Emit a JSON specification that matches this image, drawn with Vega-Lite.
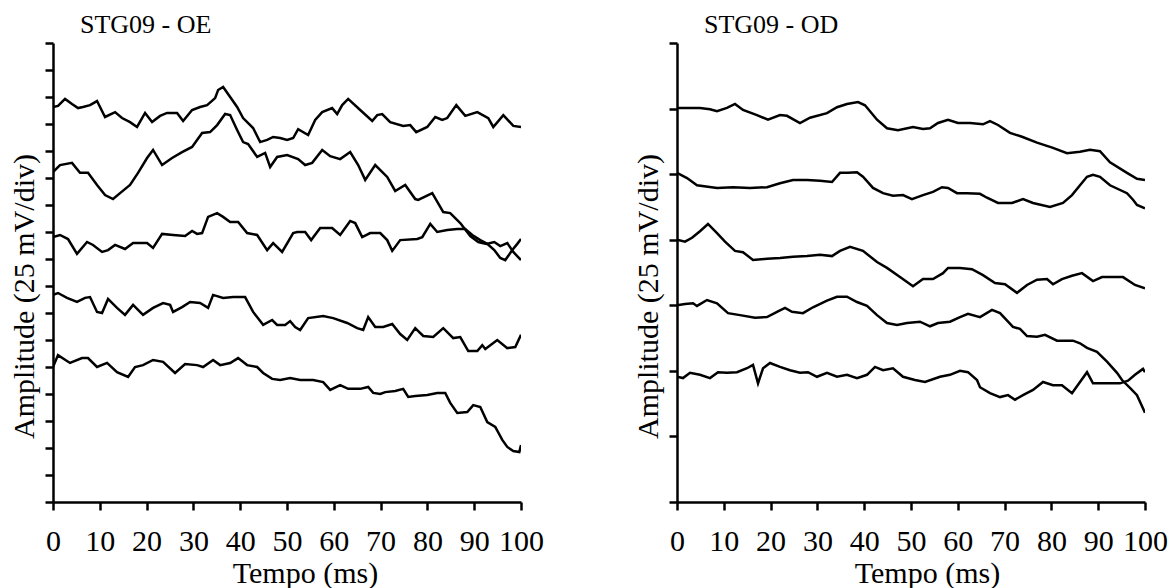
{
  "$schema": "https://vega.github.io/schema/vega-lite/v6.json",
  "padding": {"left": 9, "top": 11, "right": 0, "bottom": 0},
  "background": "white",
  "bounds": "flush",
  "spacing": 156,
  "config": {
    "view": {"stroke": null},
    "font": "Liberation Serif",
    "axis": {
      "domainColor": "black", "domainWidth": 2.5, "tickColor": "black", "tickWidth": 2.5, "tickSize": 8,
      "grid": false, "labelFont": "Liberation Serif", "labelFontSize": 30, "labelColor": "black",
      "titleFont": "Liberation Serif", "titleFontSize": 30, "titleFontWeight": "normal", "titleColor": "black"
    },
    "title": {"font": "Liberation Serif", "fontSize": 26, "fontWeight": "normal", "color": "black", "anchor": "start", "frame": "group", "dx": 27, "offset": 4, "baseline": "alphabetic"}
  },
  "datasets": {
    "oe": [
      {"trace": 1, "t": 0, "a": 14.63}, {"trace": 1, "t": 1.07, "a": 14.67}, {"trace": 1, "t": 2.57, "a": 14.93}, {"trace": 1, "t": 4.06, "a": 14.74}, {"trace": 1, "t": 5.35, "a": 14.59}, {"trace": 1, "t": 6.41, "a": 14.63}, {"trace": 1, "t": 7.91, "a": 14.7}, {"trace": 1, "t": 9.41, "a": 14.85}, {"trace": 1, "t": 10.05, "a": 14.63}, {"trace": 1, "t": 11.12, "a": 14.26}, {"trace": 1, "t": 13.26, "a": 14.44}, {"trace": 1, "t": 14.75, "a": 14.22}, {"trace": 1, "t": 16.46, "a": 14.07}, {"trace": 1, "t": 17.96, "a": 13.89}, {"trace": 1, "t": 19.67, "a": 14.41}, {"trace": 1, "t": 21.17, "a": 14.07}, {"trace": 1, "t": 22.88, "a": 14.3}, {"trace": 1, "t": 24.37, "a": 14.41}, {"trace": 1, "t": 26.51, "a": 14.41}, {"trace": 1, "t": 27.8, "a": 14.11}, {"trace": 1, "t": 29.72, "a": 14.52}, {"trace": 1, "t": 31.43, "a": 14.63}, {"trace": 1, "t": 32.93, "a": 14.7}, {"trace": 1, "t": 34.64, "a": 14.96}, {"trace": 1, "t": 35.28, "a": 15.26}, {"trace": 1, "t": 36.35, "a": 15.37}, {"trace": 1, "t": 37.85, "a": 15.0}, {"trace": 1, "t": 39.34, "a": 14.63}, {"trace": 1, "t": 40.62, "a": 14.22}, {"trace": 1, "t": 42.76, "a": 13.85}, {"trace": 1, "t": 44.26, "a": 13.33}, {"trace": 1, "t": 45.76, "a": 13.41}, {"trace": 1, "t": 47.04, "a": 13.52}, {"trace": 1, "t": 48.54, "a": 13.48}, {"trace": 1, "t": 50.03, "a": 13.41}, {"trace": 1, "t": 51.32, "a": 13.48}, {"trace": 1, "t": 52.38, "a": 13.81}, {"trace": 1, "t": 54.52, "a": 13.59}, {"trace": 1, "t": 56.02, "a": 14.15}, {"trace": 1, "t": 57.52, "a": 14.44}, {"trace": 1, "t": 59.65, "a": 14.59}, {"trace": 1, "t": 60.72, "a": 14.37}, {"trace": 1, "t": 61.79, "a": 14.7}, {"trace": 1, "t": 63.07, "a": 14.93}, {"trace": 1, "t": 65.64, "a": 14.52}, {"trace": 1, "t": 68.21, "a": 14.11}, {"trace": 1, "t": 69.28, "a": 14.33}, {"trace": 1, "t": 70.34, "a": 14.37}, {"trace": 1, "t": 72.05, "a": 14.07}, {"trace": 1, "t": 74.83, "a": 13.93}, {"trace": 1, "t": 76.33, "a": 13.96}, {"trace": 1, "t": 77.61, "a": 13.7}, {"trace": 1, "t": 79.97, "a": 13.89}, {"trace": 1, "t": 81.68, "a": 14.26}, {"trace": 1, "t": 83.17, "a": 14.15}, {"trace": 1, "t": 84.24, "a": 14.22}, {"trace": 1, "t": 86.17, "a": 14.7}, {"trace": 1, "t": 88.09, "a": 14.3}, {"trace": 1, "t": 90.66, "a": 14.44}, {"trace": 1, "t": 93.01, "a": 14.22}, {"trace": 1, "t": 94.08, "a": 13.89}, {"trace": 1, "t": 96.22, "a": 14.33}, {"trace": 1, "t": 98.36, "a": 13.93}, {"trace": 1, "t": 100, "a": 13.89},
      {"trace": 2, "t": 0, "a": 12.22}, {"trace": 2, "t": 1.5, "a": 12.48}, {"trace": 2, "t": 4.06, "a": 12.56}, {"trace": 2, "t": 5.77, "a": 12.19}, {"trace": 2, "t": 7.48, "a": 12.19}, {"trace": 2, "t": 9.41, "a": 11.74}, {"trace": 2, "t": 11.12, "a": 11.37}, {"trace": 2, "t": 12.83, "a": 11.22}, {"trace": 2, "t": 14.33, "a": 11.44}, {"trace": 2, "t": 16.46, "a": 11.74}, {"trace": 2, "t": 18.17, "a": 12.19}, {"trace": 2, "t": 20.1, "a": 12.74}, {"trace": 2, "t": 21.38, "a": 13.04}, {"trace": 2, "t": 23.31, "a": 12.48}, {"trace": 2, "t": 25.44, "a": 12.74}, {"trace": 2, "t": 27.58, "a": 12.96}, {"trace": 2, "t": 29.72, "a": 13.15}, {"trace": 2, "t": 31.86, "a": 13.67}, {"trace": 2, "t": 33.57, "a": 13.7}, {"trace": 2, "t": 35.07, "a": 13.96}, {"trace": 2, "t": 36.78, "a": 14.37}, {"trace": 2, "t": 37.85, "a": 14.33}, {"trace": 2, "t": 39.34, "a": 13.78}, {"trace": 2, "t": 40.62, "a": 13.33}, {"trace": 2, "t": 41.69, "a": 13.26}, {"trace": 2, "t": 43.62, "a": 12.78}, {"trace": 2, "t": 45.33, "a": 12.93}, {"trace": 2, "t": 46.4, "a": 12.41}, {"trace": 2, "t": 47.89, "a": 12.78}, {"trace": 2, "t": 50.03, "a": 12.85}, {"trace": 2, "t": 52.38, "a": 12.7}, {"trace": 2, "t": 53.88, "a": 12.48}, {"trace": 2, "t": 55.38, "a": 12.56}, {"trace": 2, "t": 57.52, "a": 13.04}, {"trace": 2, "t": 59.23, "a": 12.81}, {"trace": 2, "t": 61.36, "a": 12.7}, {"trace": 2, "t": 63.5, "a": 12.96}, {"trace": 2, "t": 65.21, "a": 12.48}, {"trace": 2, "t": 66.71, "a": 11.93}, {"trace": 2, "t": 68.85, "a": 12.48}, {"trace": 2, "t": 71.41, "a": 12.04}, {"trace": 2, "t": 73.12, "a": 11.52}, {"trace": 2, "t": 75.26, "a": 11.74}, {"trace": 2, "t": 77.4, "a": 11.22}, {"trace": 2, "t": 78.04, "a": 11.19}, {"trace": 2, "t": 81.04, "a": 11.44}, {"trace": 2, "t": 83.39, "a": 10.74}, {"trace": 2, "t": 84.88, "a": 10.7}, {"trace": 2, "t": 87.02, "a": 10.33}, {"trace": 2, "t": 89.16, "a": 9.85}, {"trace": 2, "t": 90.87, "a": 9.63}, {"trace": 2, "t": 92.58, "a": 9.56}, {"trace": 2, "t": 94.29, "a": 9.63}, {"trace": 2, "t": 95.57, "a": 9.48}, {"trace": 2, "t": 97.07, "a": 9.59}, {"trace": 2, "t": 98.35, "a": 9.26}, {"trace": 2, "t": 100, "a": 8.96},
      {"trace": 3, "t": 0, "a": 9.81}, {"trace": 3, "t": 1.5, "a": 9.89}, {"trace": 3, "t": 3.21, "a": 9.74}, {"trace": 3, "t": 5.13, "a": 9.19}, {"trace": 3, "t": 7.27, "a": 9.63}, {"trace": 3, "t": 8.55, "a": 9.52}, {"trace": 3, "t": 10.48, "a": 9.26}, {"trace": 3, "t": 11.76, "a": 9.33}, {"trace": 3, "t": 13.26, "a": 9.52}, {"trace": 3, "t": 15.39, "a": 9.37}, {"trace": 3, "t": 17.11, "a": 9.59}, {"trace": 3, "t": 20.1, "a": 9.59}, {"trace": 3, "t": 21.38, "a": 9.41}, {"trace": 3, "t": 23.31, "a": 9.93}, {"trace": 3, "t": 25.66, "a": 9.89}, {"trace": 3, "t": 28.22, "a": 9.85}, {"trace": 3, "t": 29.72, "a": 10.04}, {"trace": 3, "t": 30.79, "a": 9.93}, {"trace": 3, "t": 31.86, "a": 9.96}, {"trace": 3, "t": 33.14, "a": 10.56}, {"trace": 3, "t": 35.07, "a": 10.7}, {"trace": 3, "t": 36.35, "a": 10.56}, {"trace": 3, "t": 37.85, "a": 10.37}, {"trace": 3, "t": 39.56, "a": 10.37}, {"trace": 3, "t": 41.48, "a": 9.96}, {"trace": 3, "t": 43.62, "a": 9.89}, {"trace": 3, "t": 45.76, "a": 9.33}, {"trace": 3, "t": 47.04, "a": 9.59}, {"trace": 3, "t": 48.96, "a": 9.26}, {"trace": 3, "t": 51.32, "a": 9.96}, {"trace": 3, "t": 52.17, "a": 10.0}, {"trace": 3, "t": 53.88, "a": 10.0}, {"trace": 3, "t": 55.16, "a": 9.7}, {"trace": 3, "t": 57.09, "a": 10.15}, {"trace": 3, "t": 59.65, "a": 10.15}, {"trace": 3, "t": 61.36, "a": 9.89}, {"trace": 3, "t": 63.5, "a": 10.41}, {"trace": 3, "t": 64.57, "a": 10.33}, {"trace": 3, "t": 66.07, "a": 9.81}, {"trace": 3, "t": 67.78, "a": 9.96}, {"trace": 3, "t": 69.92, "a": 9.96}, {"trace": 3, "t": 71.41, "a": 9.7}, {"trace": 3, "t": 72.48, "a": 9.3}, {"trace": 3, "t": 74.19, "a": 9.7}, {"trace": 3, "t": 77.83, "a": 9.74}, {"trace": 3, "t": 78.9, "a": 9.81}, {"trace": 3, "t": 80.61, "a": 10.3}, {"trace": 3, "t": 82.1, "a": 10.0}, {"trace": 3, "t": 84.24, "a": 10.07}, {"trace": 3, "t": 86.38, "a": 10.11}, {"trace": 3, "t": 88.09, "a": 10.11}, {"trace": 3, "t": 89.59, "a": 9.89}, {"trace": 3, "t": 91.3, "a": 9.7}, {"trace": 3, "t": 92.79, "a": 9.56}, {"trace": 3, "t": 94.29, "a": 9.33}, {"trace": 3, "t": 95.57, "a": 9.04}, {"trace": 3, "t": 96.64, "a": 8.96}, {"trace": 3, "t": 98.14, "a": 9.33}, {"trace": 3, "t": 99.21, "a": 9.56}, {"trace": 3, "t": 100, "a": 9.74},
      {"trace": 4, "t": 0, "a": 7.67}, {"trace": 4, "t": 1.07, "a": 7.74}, {"trace": 4, "t": 2.99, "a": 7.56}, {"trace": 4, "t": 5.13, "a": 7.41}, {"trace": 4, "t": 6.84, "a": 7.56}, {"trace": 4, "t": 7.91, "a": 7.59}, {"trace": 4, "t": 9.41, "a": 7.04}, {"trace": 4, "t": 10.48, "a": 7.0}, {"trace": 4, "t": 11.76, "a": 7.52}, {"trace": 4, "t": 13.68, "a": 7.19}, {"trace": 4, "t": 15.39, "a": 6.93}, {"trace": 4, "t": 17.11, "a": 7.3}, {"trace": 4, "t": 19.24, "a": 6.93}, {"trace": 4, "t": 21.38, "a": 7.19}, {"trace": 4, "t": 23.52, "a": 7.37}, {"trace": 4, "t": 25.02, "a": 7.3}, {"trace": 4, "t": 25.66, "a": 7.04}, {"trace": 4, "t": 27.58, "a": 7.22}, {"trace": 4, "t": 29.29, "a": 7.41}, {"trace": 4, "t": 31.43, "a": 7.37}, {"trace": 4, "t": 33.14, "a": 7.19}, {"trace": 4, "t": 34.21, "a": 7.67}, {"trace": 4, "t": 36.35, "a": 7.56}, {"trace": 4, "t": 38.49, "a": 7.59}, {"trace": 4, "t": 41.05, "a": 7.59}, {"trace": 4, "t": 42.76, "a": 7.04}, {"trace": 4, "t": 44.9, "a": 6.56}, {"trace": 4, "t": 46.83, "a": 6.74}, {"trace": 4, "t": 47.89, "a": 6.56}, {"trace": 4, "t": 49.6, "a": 6.56}, {"trace": 4, "t": 50.67, "a": 6.7}, {"trace": 4, "t": 51.74, "a": 6.48}, {"trace": 4, "t": 52.81, "a": 6.37}, {"trace": 4, "t": 54.52, "a": 6.81}, {"trace": 4, "t": 57.73, "a": 6.89}, {"trace": 4, "t": 59.87, "a": 6.81}, {"trace": 4, "t": 62.86, "a": 6.63}, {"trace": 4, "t": 65.0, "a": 6.44}, {"trace": 4, "t": 66.28, "a": 6.37}, {"trace": 4, "t": 67.35, "a": 6.85}, {"trace": 4, "t": 68.85, "a": 6.48}, {"trace": 4, "t": 70.56, "a": 6.48}, {"trace": 4, "t": 72.48, "a": 6.59}, {"trace": 4, "t": 74.19, "a": 6.22}, {"trace": 4, "t": 75.69, "a": 6.0}, {"trace": 4, "t": 77.4, "a": 6.44}, {"trace": 4, "t": 79.11, "a": 6.15}, {"trace": 4, "t": 81.25, "a": 6.11}, {"trace": 4, "t": 83.39, "a": 6.44}, {"trace": 4, "t": 85.52, "a": 6.07}, {"trace": 4, "t": 87.02, "a": 6.11}, {"trace": 4, "t": 88.73, "a": 5.59}, {"trace": 4, "t": 90.66, "a": 5.59}, {"trace": 4, "t": 91.73, "a": 5.81}, {"trace": 4, "t": 92.37, "a": 5.67}, {"trace": 4, "t": 94.93, "a": 6.0}, {"trace": 4, "t": 97.07, "a": 5.7}, {"trace": 4, "t": 98.78, "a": 5.74}, {"trace": 4, "t": 100, "a": 6.19},
      {"trace": 5, "t": 0, "a": 5.0}, {"trace": 5, "t": 1.07, "a": 5.44}, {"trace": 5, "t": 3.63, "a": 5.15}, {"trace": 5, "t": 6.2, "a": 5.33}, {"trace": 5, "t": 7.48, "a": 5.33}, {"trace": 5, "t": 9.41, "a": 5.0}, {"trace": 5, "t": 11.55, "a": 5.15}, {"trace": 5, "t": 13.68, "a": 4.81}, {"trace": 5, "t": 16.04, "a": 4.63}, {"trace": 5, "t": 17.53, "a": 5.0}, {"trace": 5, "t": 19.24, "a": 5.07}, {"trace": 5, "t": 21.38, "a": 5.26}, {"trace": 5, "t": 23.52, "a": 5.19}, {"trace": 5, "t": 26.08, "a": 4.78}, {"trace": 5, "t": 28.22, "a": 5.11}, {"trace": 5, "t": 30.79, "a": 5.07}, {"trace": 5, "t": 32.07, "a": 5.0}, {"trace": 5, "t": 34.21, "a": 5.26}, {"trace": 5, "t": 35.71, "a": 5.07}, {"trace": 5, "t": 37.85, "a": 5.15}, {"trace": 5, "t": 39.56, "a": 5.33}, {"trace": 5, "t": 41.48, "a": 5.07}, {"trace": 5, "t": 43.62, "a": 5.0}, {"trace": 5, "t": 44.9, "a": 4.78}, {"trace": 5, "t": 46.83, "a": 4.56}, {"trace": 5, "t": 48.54, "a": 4.52}, {"trace": 5, "t": 50.67, "a": 4.59}, {"trace": 5, "t": 52.81, "a": 4.52}, {"trace": 5, "t": 55.59, "a": 4.52}, {"trace": 5, "t": 57.73, "a": 4.44}, {"trace": 5, "t": 59.23, "a": 4.15}, {"trace": 5, "t": 61.36, "a": 4.33}, {"trace": 5, "t": 63.07, "a": 4.19}, {"trace": 5, "t": 65.64, "a": 4.19}, {"trace": 5, "t": 67.35, "a": 4.26}, {"trace": 5, "t": 68.42, "a": 4.04}, {"trace": 5, "t": 69.92, "a": 4.0}, {"trace": 5, "t": 70.99, "a": 4.07}, {"trace": 5, "t": 73.12, "a": 4.11}, {"trace": 5, "t": 74.83, "a": 4.19}, {"trace": 5, "t": 75.9, "a": 3.89}, {"trace": 5, "t": 77.4, "a": 3.93}, {"trace": 5, "t": 79.97, "a": 3.96}, {"trace": 5, "t": 82.1, "a": 4.04}, {"trace": 5, "t": 83.81, "a": 4.04}, {"trace": 5, "t": 84.88, "a": 3.67}, {"trace": 5, "t": 86.38, "a": 3.3}, {"trace": 5, "t": 88.52, "a": 3.33}, {"trace": 5, "t": 89.8, "a": 3.59}, {"trace": 5, "t": 91.3, "a": 3.52}, {"trace": 5, "t": 92.79, "a": 2.96}, {"trace": 5, "t": 94.5, "a": 2.78}, {"trace": 5, "t": 96.0, "a": 2.3}, {"trace": 5, "t": 97.07, "a": 2.04}, {"trace": 5, "t": 98.35, "a": 1.89}, {"trace": 5, "t": 99.64, "a": 1.85}, {"trace": 5, "t": 100, "a": 2.11}
    ],
    "od": [
      {"trace": 1, "t": 0, "a": 6.01}, {"trace": 1, "t": 2.14, "a": 6.01}, {"trace": 1, "t": 4.91, "a": 6.01}, {"trace": 1, "t": 7.05, "a": 5.99}, {"trace": 1, "t": 8.55, "a": 5.96}, {"trace": 1, "t": 10.68, "a": 6.01}, {"trace": 1, "t": 12.39, "a": 6.07}, {"trace": 1, "t": 14.1, "a": 5.98}, {"trace": 1, "t": 17.09, "a": 5.9}, {"trace": 1, "t": 19.44, "a": 5.83}, {"trace": 1, "t": 22.01, "a": 5.9}, {"trace": 1, "t": 23.5, "a": 5.89}, {"trace": 1, "t": 26.28, "a": 5.78}, {"trace": 1, "t": 28.42, "a": 5.86}, {"trace": 1, "t": 32.05, "a": 5.93}, {"trace": 1, "t": 34.19, "a": 6.02}, {"trace": 1, "t": 36.32, "a": 6.07}, {"trace": 1, "t": 38.68, "a": 6.1}, {"trace": 1, "t": 40.17, "a": 6.05}, {"trace": 1, "t": 42.74, "a": 5.83}, {"trace": 1, "t": 44.87, "a": 5.7}, {"trace": 1, "t": 47.22, "a": 5.67}, {"trace": 1, "t": 50.43, "a": 5.72}, {"trace": 1, "t": 52.56, "a": 5.69}, {"trace": 1, "t": 54.06, "a": 5.7}, {"trace": 1, "t": 55.77, "a": 5.78}, {"trace": 1, "t": 57.91, "a": 5.83}, {"trace": 1, "t": 60.04, "a": 5.78}, {"trace": 1, "t": 62.61, "a": 5.78}, {"trace": 1, "t": 65.38, "a": 5.76}, {"trace": 1, "t": 66.88, "a": 5.81}, {"trace": 1, "t": 68.59, "a": 5.75}, {"trace": 1, "t": 71.15, "a": 5.63}, {"trace": 1, "t": 73.72, "a": 5.57}, {"trace": 1, "t": 76.92, "a": 5.48}, {"trace": 1, "t": 80.34, "a": 5.4}, {"trace": 1, "t": 83.33, "a": 5.32}, {"trace": 1, "t": 86.11, "a": 5.34}, {"trace": 1, "t": 88.25, "a": 5.37}, {"trace": 1, "t": 90.38, "a": 5.35}, {"trace": 1, "t": 92.52, "a": 5.18}, {"trace": 1, "t": 96.15, "a": 5.02}, {"trace": 1, "t": 98.29, "a": 4.93}, {"trace": 1, "t": 100, "a": 4.91},
      {"trace": 2, "t": 0, "a": 5.02}, {"trace": 2, "t": 2.14, "a": 4.94}, {"trace": 2, "t": 4.27, "a": 4.83}, {"trace": 2, "t": 8.55, "a": 4.79}, {"trace": 2, "t": 11.97, "a": 4.8}, {"trace": 2, "t": 15.6, "a": 4.79}, {"trace": 2, "t": 19.23, "a": 4.8}, {"trace": 2, "t": 22.01, "a": 4.86}, {"trace": 2, "t": 24.79, "a": 4.91}, {"trace": 2, "t": 27.78, "a": 4.91}, {"trace": 2, "t": 30.56, "a": 4.9}, {"trace": 2, "t": 33.12, "a": 4.88}, {"trace": 2, "t": 34.83, "a": 5.02}, {"trace": 2, "t": 36.54, "a": 5.02}, {"trace": 2, "t": 38.46, "a": 5.03}, {"trace": 2, "t": 39.74, "a": 4.96}, {"trace": 2, "t": 41.88, "a": 4.79}, {"trace": 2, "t": 44.02, "a": 4.71}, {"trace": 2, "t": 46.15, "a": 4.67}, {"trace": 2, "t": 48.29, "a": 4.68}, {"trace": 2, "t": 50.21, "a": 4.62}, {"trace": 2, "t": 52.56, "a": 4.68}, {"trace": 2, "t": 54.7, "a": 4.73}, {"trace": 2, "t": 56.62, "a": 4.8}, {"trace": 2, "t": 57.91, "a": 4.79}, {"trace": 2, "t": 59.83, "a": 4.71}, {"trace": 2, "t": 61.97, "a": 4.71}, {"trace": 2, "t": 64.74, "a": 4.7}, {"trace": 2, "t": 66.24, "a": 4.64}, {"trace": 2, "t": 68.59, "a": 4.56}, {"trace": 2, "t": 71.58, "a": 4.56}, {"trace": 2, "t": 73.93, "a": 4.62}, {"trace": 2, "t": 76.07, "a": 4.56}, {"trace": 2, "t": 79.7, "a": 4.5}, {"trace": 2, "t": 82.48, "a": 4.56}, {"trace": 2, "t": 84.4, "a": 4.68}, {"trace": 2, "t": 86.11, "a": 4.83}, {"trace": 2, "t": 87.61, "a": 4.96}, {"trace": 2, "t": 88.89, "a": 4.99}, {"trace": 2, "t": 90.38, "a": 4.96}, {"trace": 2, "t": 92.52, "a": 4.83}, {"trace": 2, "t": 96.15, "a": 4.71}, {"trace": 2, "t": 97.44, "a": 4.61}, {"trace": 2, "t": 98.29, "a": 4.53}, {"trace": 2, "t": 100, "a": 4.48},
      {"trace": 3, "t": 0, "a": 4.0}, {"trace": 3, "t": 1.71, "a": 3.97}, {"trace": 3, "t": 3.21, "a": 4.03}, {"trace": 3, "t": 4.91, "a": 4.13}, {"trace": 3, "t": 6.62, "a": 4.24}, {"trace": 3, "t": 8.55, "a": 4.1}, {"trace": 3, "t": 10.26, "a": 3.97}, {"trace": 3, "t": 12.39, "a": 3.83}, {"trace": 3, "t": 14.1, "a": 3.81}, {"trace": 3, "t": 16.24, "a": 3.69}, {"trace": 3, "t": 19.23, "a": 3.71}, {"trace": 3, "t": 22.01, "a": 3.72}, {"trace": 3, "t": 24.79, "a": 3.74}, {"trace": 3, "t": 27.78, "a": 3.75}, {"trace": 3, "t": 30.56, "a": 3.77}, {"trace": 3, "t": 33.12, "a": 3.75}, {"trace": 3, "t": 34.83, "a": 3.83}, {"trace": 3, "t": 36.97, "a": 3.89}, {"trace": 3, "t": 39.74, "a": 3.83}, {"trace": 3, "t": 42.74, "a": 3.66}, {"trace": 3, "t": 44.87, "a": 3.57}, {"trace": 3, "t": 47.65, "a": 3.43}, {"trace": 3, "t": 50.43, "a": 3.29}, {"trace": 3, "t": 52.56, "a": 3.4}, {"trace": 3, "t": 54.7, "a": 3.4}, {"trace": 3, "t": 56.84, "a": 3.49}, {"trace": 3, "t": 57.91, "a": 3.57}, {"trace": 3, "t": 60.47, "a": 3.57}, {"trace": 3, "t": 63.03, "a": 3.55}, {"trace": 3, "t": 65.38, "a": 3.46}, {"trace": 3, "t": 67.95, "a": 3.34}, {"trace": 3, "t": 70.09, "a": 3.32}, {"trace": 3, "t": 72.65, "a": 3.19}, {"trace": 3, "t": 74.79, "a": 3.31}, {"trace": 3, "t": 76.92, "a": 3.39}, {"trace": 3, "t": 79.06, "a": 3.4}, {"trace": 3, "t": 80.34, "a": 3.32}, {"trace": 3, "t": 82.26, "a": 3.4}, {"trace": 3, "t": 84.4, "a": 3.45}, {"trace": 3, "t": 86.54, "a": 3.49}, {"trace": 3, "t": 88.89, "a": 3.37}, {"trace": 3, "t": 90.81, "a": 3.43}, {"trace": 3, "t": 93.59, "a": 3.43}, {"trace": 3, "t": 95.3, "a": 3.43}, {"trace": 3, "t": 97.86, "a": 3.31}, {"trace": 3, "t": 100, "a": 3.26},
      {"trace": 4, "t": 0, "a": 3.0}, {"trace": 4, "t": 1.71, "a": 3.02}, {"trace": 4, "t": 3.42, "a": 3.03}, {"trace": 4, "t": 4.27, "a": 2.99}, {"trace": 4, "t": 6.41, "a": 3.08}, {"trace": 4, "t": 8.55, "a": 3.03}, {"trace": 4, "t": 10.9, "a": 2.88}, {"trace": 4, "t": 13.46, "a": 2.85}, {"trace": 4, "t": 16.67, "a": 2.81}, {"trace": 4, "t": 19.23, "a": 2.82}, {"trace": 4, "t": 21.37, "a": 2.9}, {"trace": 4, "t": 23.08, "a": 2.96}, {"trace": 4, "t": 24.57, "a": 2.9}, {"trace": 4, "t": 26.92, "a": 2.88}, {"trace": 4, "t": 29.06, "a": 2.97}, {"trace": 4, "t": 32.05, "a": 3.07}, {"trace": 4, "t": 34.19, "a": 3.13}, {"trace": 4, "t": 36.32, "a": 3.13}, {"trace": 4, "t": 38.46, "a": 3.05}, {"trace": 4, "t": 40.6, "a": 2.99}, {"trace": 4, "t": 42.74, "a": 2.85}, {"trace": 4, "t": 44.87, "a": 2.73}, {"trace": 4, "t": 47.01, "a": 2.7}, {"trace": 4, "t": 49.15, "a": 2.73}, {"trace": 4, "t": 51.92, "a": 2.75}, {"trace": 4, "t": 54.06, "a": 2.68}, {"trace": 4, "t": 55.77, "a": 2.73}, {"trace": 4, "t": 58.33, "a": 2.75}, {"trace": 4, "t": 60.47, "a": 2.82}, {"trace": 4, "t": 62.18, "a": 2.87}, {"trace": 4, "t": 64.74, "a": 2.82}, {"trace": 4, "t": 67.31, "a": 2.93}, {"trace": 4, "t": 69.02, "a": 2.88}, {"trace": 4, "t": 71.79, "a": 2.67}, {"trace": 4, "t": 73.29, "a": 2.64}, {"trace": 4, "t": 74.79, "a": 2.53}, {"trace": 4, "t": 76.92, "a": 2.52}, {"trace": 4, "t": 78.63, "a": 2.55}, {"trace": 4, "t": 81.2, "a": 2.46}, {"trace": 4, "t": 84.62, "a": 2.46}, {"trace": 4, "t": 86.11, "a": 2.42}, {"trace": 4, "t": 87.61, "a": 2.35}, {"trace": 4, "t": 89.74, "a": 2.29}, {"trace": 4, "t": 91.88, "a": 2.14}, {"trace": 4, "t": 94.02, "a": 1.97}, {"trace": 4, "t": 95.09, "a": 1.86}, {"trace": 4, "t": 96.79, "a": 1.74}, {"trace": 4, "t": 98.29, "a": 1.63}, {"trace": 4, "t": 100, "a": 1.36},
      {"trace": 5, "t": 0, "a": 1.91}, {"trace": 5, "t": 1.28, "a": 1.89}, {"trace": 5, "t": 2.78, "a": 1.97}, {"trace": 5, "t": 4.91, "a": 1.94}, {"trace": 5, "t": 7.05, "a": 1.89}, {"trace": 5, "t": 8.76, "a": 1.98}, {"trace": 5, "t": 10.68, "a": 1.97}, {"trace": 5, "t": 12.82, "a": 1.98}, {"trace": 5, "t": 14.96, "a": 2.04}, {"trace": 5, "t": 16.24, "a": 2.09}, {"trace": 5, "t": 17.31, "a": 1.81}, {"trace": 5, "t": 18.38, "a": 2.04}, {"trace": 5, "t": 19.87, "a": 2.12}, {"trace": 5, "t": 22.01, "a": 2.06}, {"trace": 5, "t": 24.15, "a": 2.01}, {"trace": 5, "t": 26.28, "a": 1.97}, {"trace": 5, "t": 27.99, "a": 1.98}, {"trace": 5, "t": 29.91, "a": 1.91}, {"trace": 5, "t": 32.05, "a": 1.97}, {"trace": 5, "t": 34.19, "a": 1.91}, {"trace": 5, "t": 36.32, "a": 1.94}, {"trace": 5, "t": 38.46, "a": 1.89}, {"trace": 5, "t": 40.6, "a": 1.94}, {"trace": 5, "t": 42.31, "a": 2.06}, {"trace": 5, "t": 44.02, "a": 2.01}, {"trace": 5, "t": 46.15, "a": 2.04}, {"trace": 5, "t": 48.29, "a": 1.91}, {"trace": 5, "t": 50.85, "a": 1.86}, {"trace": 5, "t": 52.99, "a": 1.83}, {"trace": 5, "t": 56.2, "a": 1.91}, {"trace": 5, "t": 58.33, "a": 1.94}, {"trace": 5, "t": 60.47, "a": 2.0}, {"trace": 5, "t": 62.18, "a": 1.98}, {"trace": 5, "t": 64.1, "a": 1.86}, {"trace": 5, "t": 64.74, "a": 1.75}, {"trace": 5, "t": 66.88, "a": 1.66}, {"trace": 5, "t": 69.02, "a": 1.6}, {"trace": 5, "t": 70.73, "a": 1.63}, {"trace": 5, "t": 72.22, "a": 1.56}, {"trace": 5, "t": 73.93, "a": 1.63}, {"trace": 5, "t": 76.07, "a": 1.71}, {"trace": 5, "t": 78.21, "a": 1.83}, {"trace": 5, "t": 80.34, "a": 1.78}, {"trace": 5, "t": 82.26, "a": 1.78}, {"trace": 5, "t": 84.4, "a": 1.66}, {"trace": 5, "t": 86.11, "a": 1.83}, {"trace": 5, "t": 87.61, "a": 1.98}, {"trace": 5, "t": 88.89, "a": 1.81}, {"trace": 5, "t": 91.88, "a": 1.81}, {"trace": 5, "t": 94.66, "a": 1.81}, {"trace": 5, "t": 96.37, "a": 1.85}, {"trace": 5, "t": 97.86, "a": 1.94}, {"trace": 5, "t": 99.57, "a": 2.03}, {"trace": 5, "t": 100, "a": 1.98}
    ]
  },
  "hconcat": [
    {
      "width": 468, "height": 459,
      "title": {"text": "STG09 - OE"},
      "data": {"name": "oe"},
      "mark": {"type": "line", "color": "black", "strokeWidth": 2.5, "clip": true},
      "encoding": {
        "x": {"field": "t", "type": "quantitative", "scale": {"domain": [0, 100], "nice": false},
          "axis": {"values": [0, 10, 20, 30, 40, 50, 60, 70, 80, 90, 100], "labelFlush": false, "labelOverlap": false, "labelPadding": 16, "title": "Tempo (ms)", "titleX": 252, "titleY": 80, "titleBaseline": "alphabetic"}},
        "y": {"field": "a", "type": "quantitative", "scale": {"domain": [0, 17], "nice": false, "zero": false},
          "axis": {"values": [0, 1, 2, 3, 4, 5, 6, 7, 8, 9, 10, 11, 12, 13, 14, 15, 16, 17], "labels": false, "title": "Amplitude (25 mV/div)", "titleX": -20, "titleY": 253, "titleBaseline": "alphabetic", "titleAngle": -90, "titleAlign": "center"}},
        "detail": {"field": "trace", "type": "nominal"}
      }
    },
    {
      "width": 468, "height": 459,
      "title": {"text": "STG09 - OD"},
      "data": {"name": "od"},
      "mark": {"type": "line", "color": "black", "strokeWidth": 2.5, "clip": true},
      "encoding": {
        "x": {"field": "t", "type": "quantitative", "scale": {"domain": [0, 100], "nice": false},
          "axis": {"values": [0, 10, 20, 30, 40, 50, 60, 70, 80, 90, 100], "labelFlush": false, "labelOverlap": false, "labelPadding": 16, "title": "Tempo (ms)", "titleX": 250, "titleY": 80, "titleBaseline": "alphabetic"}},
        "y": {"field": "a", "type": "quantitative", "scale": {"domain": [0, 7], "nice": false, "zero": false},
          "axis": {"values": [0, 1, 2, 3, 4, 5, 6, 7], "labels": false, "title": "Amplitude (25 mV/div)", "titleX": -20, "titleY": 253, "titleBaseline": "alphabetic", "titleAngle": -90, "titleAlign": "center"}},
        "detail": {"field": "trace", "type": "nominal"}
      }
    }
  ]
}
